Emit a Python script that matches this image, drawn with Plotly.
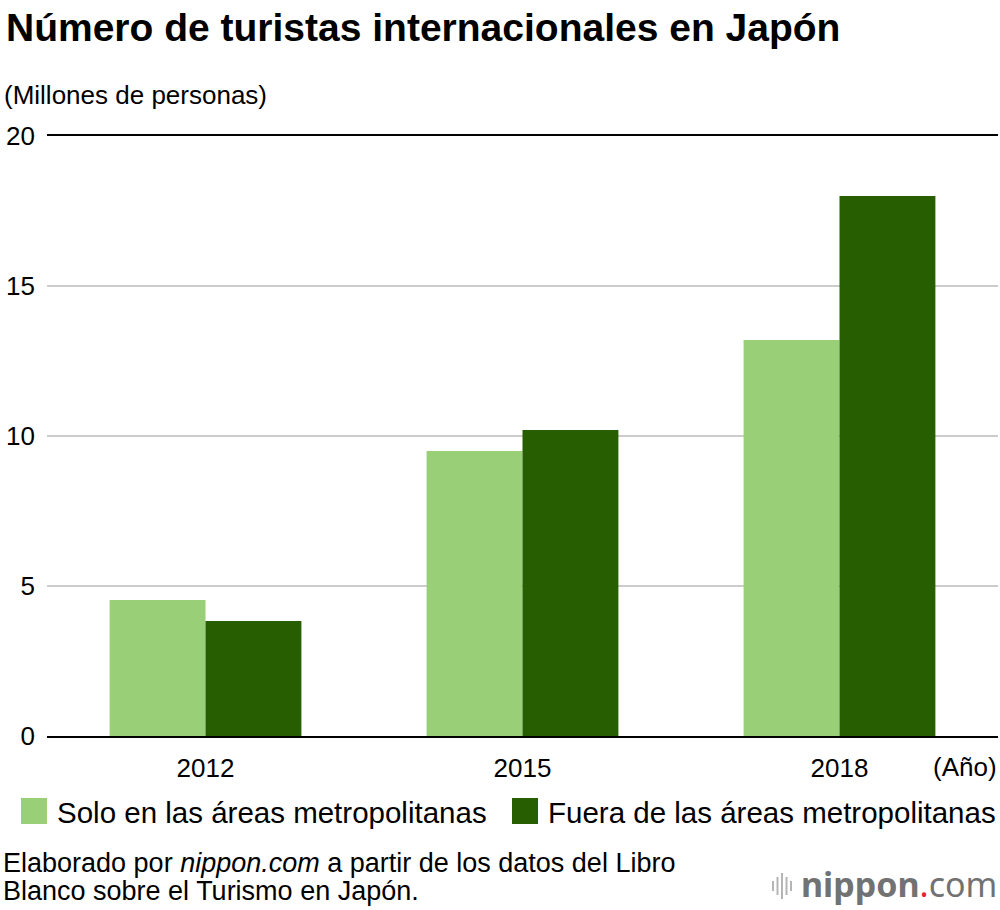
import plotly.graph_objects as go

# Data (millones de personas)
years = ["2012", "2015", "2018"]
solo_metro = [4.53, 9.5, 13.2]
fuera_metro = [3.83, 10.2, 18.0]
y_ticks = [0, 5, 10, 15, 20]

series_names = ["Solo en las áreas metropolitanas", "Fuera de las áreas metropolitanas"]
light_green = "#98CF77"
dark_green = "#265E01"
font_family = "Liberation Sans, Arial, Helvetica, sans-serif"

# plot area in page pixels: x 47..998, y 136..736
PL, PR, PT, PB = 47, 998, 136, 736


def px(x):
    return (x - PL) / (PR - PL)


def py(y):
    return (PB - y) / (PB - PT)


fig = go.Figure()
fig.add_trace(go.Bar(x=years, y=solo_metro, name=series_names[0],
                     marker=dict(color=light_green, line=dict(width=0))))
fig.add_trace(go.Bar(x=years, y=fuera_metro, name=series_names[1],
                     marker=dict(color=dark_green, line=dict(width=0))))

fig.update_layout(
    width=1000, height=910,
    margin=dict(l=PL, r=1000 - PR, t=PT, b=910 - PB),
    paper_bgcolor="white", plot_bgcolor="white",
    barmode="group", bargap=0.395, bargroupgap=0,
    showlegend=False,
    font=dict(family=font_family, color="black", size=26),
)

fig.update_xaxes(
    showgrid=False, showline=True, mirror=True, linecolor="black", linewidth=2,
    ticks="", ticklabelstandoff=8, tickfont=dict(size=26),
    fixedrange=True,
)
fig.update_yaxes(
    range=[0, 20], tickvals=y_ticks, showgrid=True, gridcolor="#CCCCCC", gridwidth=2,
    zeroline=False, showline=False, ticks="", ticklabelstandoff=11,
    tickfont=dict(size=26), fixedrange=True,
)

# title and unit
fig.add_annotation(text="<b>Número de turistas internacionales en Japón</b>",
                   xref="paper", yref="paper", x=px(4), y=py(27),
                   xanchor="left", yanchor="middle", showarrow=False,
                   font=dict(size=39))
fig.add_annotation(text="(Millones de personas)",
                   xref="paper", yref="paper", x=px(2), y=py(95),
                   xanchor="left", yanchor="middle", showarrow=False,
                   font=dict(size=26))
fig.add_annotation(text="(Año)", xref="paper", yref="paper", x=px(999), y=py(767),
                   xanchor="right", yanchor="middle", showarrow=False,
                   font=dict(size=26))

# legend drawn by hand (large swatches)
legend_items = [(21, light_green, series_names[0]), (512, dark_green, series_names[1])]
for x0, color, name in legend_items:
    fig.add_shape(type="rect", xref="paper", yref="paper",
                  x0=px(x0), x1=px(x0 + 26), y0=py(824), y1=py(798),
                  fillcolor=color, line=dict(width=0))
    fig.add_annotation(text=name, xref="paper", yref="paper",
                       x=px(x0 + 34), y=py(812),
                       xanchor="left", yanchor="middle", showarrow=False,
                       font=dict(size=29.5))

# source
source_lines = ["Elaborado por <i>nippon.com</i> a partir de los datos del Libro",
                "Blanco sobre el Turismo en Japón."]
for i, line in enumerate(source_lines):
    fig.add_annotation(text=line, xref="paper", yref="paper", x=px(1), y=py(863 + 28 * i),
                       xanchor="left", yanchor="middle", align="left", showarrow=False,
                       font=dict(size=27))

# nippon.com logo
fig.add_annotation(text="<b>nippon</b><span style='color:#E8232A'>.</span>com",
                   xref="paper", yref="paper", x=px(999), y=py(884),
                   xanchor="right", yanchor="middle", showarrow=False,
                   font=dict(size=34, color="#727272", family="Noto Sans, sans-serif"))
for i, h in enumerate([10, 18, 26, 18, 10]):
    xp = 773 + i * 4.5
    fig.add_shape(type="line", xref="paper", yref="paper",
                  x0=px(xp), x1=px(xp), y0=py(886 + h / 2), y1=py(886 - h / 2),
                  line=dict(color="#B5B5B5", width=2))

fig.write_html("out.html", config={"displayModeBar": False},
               post_script="document.body.style.margin='0px';"
                           "document.body.style.overflow='hidden';")
